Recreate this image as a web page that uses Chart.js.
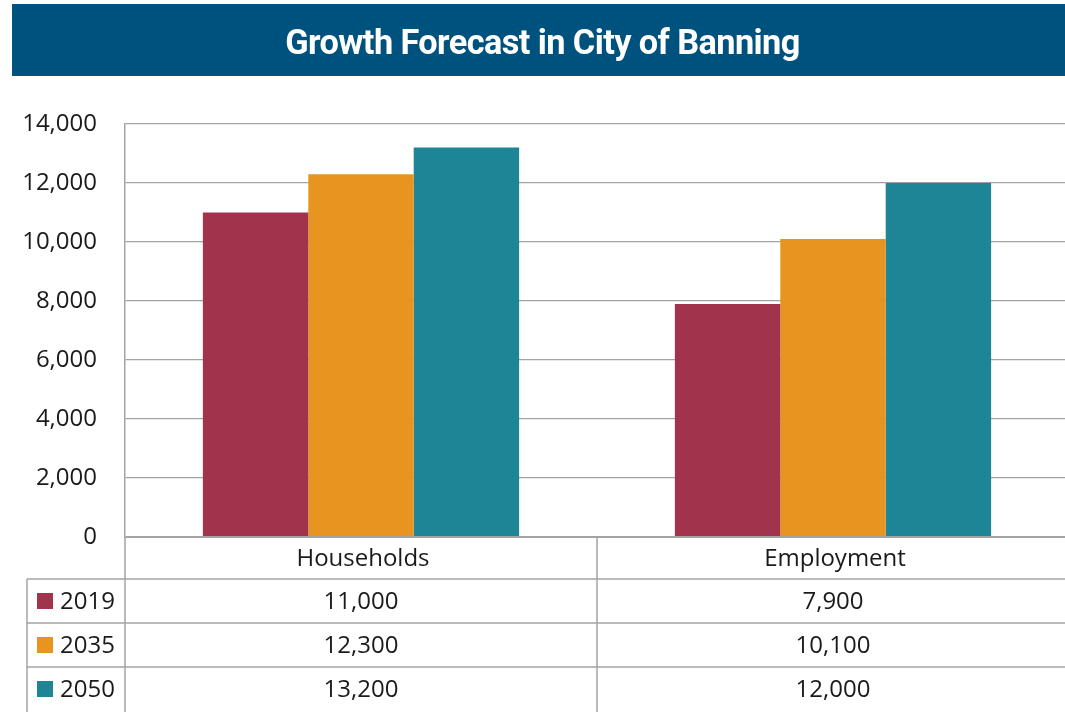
<!DOCTYPE html>
<html>
<head>
<meta charset="utf-8">
<script src="https://cdn.jsdelivr.net/npm/chart.js@4/dist/chart.umd.min.js"></script>
<style>
  html, body { margin: 0; padding: 0; background: #fff; overflow: hidden; }
  body { width: 1065px; height: 712px; position: relative; }
  #banner {
    position: absolute; left: 12px; top: 4px; width: 1060px; height: 72px;
    background: #00527e; color: #fff; text-align: center;
  }
  #banner span {
    display: inline-block; font-family: Roboto, sans-serif; font-weight: 700;
    font-size: 35px; line-height: 72px; transform: scaleX(0.98); letter-spacing: -0.6px;
    position: relative; top: 3px;
  }
  #chart { position: absolute; left: 0; top: 0; }
</style>
</head>
<body>
<canvas id="chart" width="1075" height="712"></canvas>
<div id="banner"><span>Growth Forecast in City of Banning</span></div>
<script>
const categories = ['Households', 'Employment']
const years = ['2019', '2035', '2050']
const values2019 = [11000, 7900]
const values2035 = [12300, 10100]
const values2050 = [13200, 12000]
const yTicks = [0, 2000, 4000, 6000, 8000, 10000, 12000, 14000]

const colors = ['#a1344c', '#e79520', '#1e8596']
const series = [values2019, values2035, values2050]
const fontFamily = '"Open Sans", "Noto Sans", sans-serif'
const lineColor = '#a3a3a3'
const textColor = '#1a1a1a'

const fmt = (v) => v.toLocaleString('en-US')

// data table under the plot, lined up with the x scale
const tablePlugin = {
  id: 'dataTable',
  afterDraw(chart) {
    const ctx = chart.ctx
    const area = chart.chartArea
    const x = chart.scales.x
    const headerBottom = area.bottom + 42
    const rowH = 44
    const legendLeft = 27
    const bottom = 712
    const mid = (x.getPixelForValue(0) + x.getPixelForValue(1)) / 2

    ctx.save()
    ctx.strokeStyle = lineColor
    ctx.lineWidth = 1.5

    const line = (x1, y1, x2, y2) => {
      ctx.beginPath()
      ctx.moveTo(x1, y1)
      ctx.lineTo(x2, y2)
      ctx.stroke()
    }

    // verticals
    line(area.left, area.bottom, area.left, bottom)
    line(mid, area.bottom, mid, bottom)
    line(legendLeft, headerBottom, legendLeft, bottom)
    // horizontals
    for (let i = 0; i < years.length; i++) {
      const y = headerBottom + i * rowH
      line(legendLeft, y, area.right, y)
    }

    ctx.fillStyle = textColor
    ctx.font = '24px ' + fontFamily
    ctx.textAlign = 'center'
    ctx.textBaseline = 'middle'
    categories.forEach((c, i) => {
      ctx.fillText(c, x.getPixelForValue(i) + 2, (area.bottom + headerBottom) / 2 + 1)
    })

    years.forEach((yr, r) => {
      const cy = headerBottom + r * rowH + rowH / 2 + 1
      ctx.fillStyle = colors[r]
      ctx.fillRect(37, cy - 9, 16, 16)
      ctx.fillStyle = textColor
      ctx.textAlign = 'left'
      ctx.fillText(yr, 60, cy)
      ctx.textAlign = 'center'
      series[r].forEach((v, i) => {
        ctx.fillText(fmt(v), x.getPixelForValue(i), cy)
      })
    })
    ctx.restore()
  },
}

new Chart(document.getElementById('chart'), {
  type: 'bar',
  data: {
    labels: categories,
    datasets: years.map((yr, i) => ({
      label: yr,
      data: series[i],
      backgroundColor: colors[i],
      borderWidth: 0,
      categoryPercentage: 0.67,
      barPercentage: 1,
    })),
  },
  options: {
    responsive: false,
    animation: false,
    devicePixelRatio: 1,
    layout: { padding: { top: 124, bottom: 175, left: 0, right: 6 } },
    plugins: { legend: { display: false }, tooltip: { enabled: false } },
    scales: {
      x: { display: false },
      y: {
        min: 0,
        max: 14000,
        afterBuildTicks: (axis) => {
          axis.ticks = yTicks.map((v) => ({ value: v }))
        },
        afterFit: (axis) => {
          axis.width = 125
        },
        ticks: {
          color: textColor,
          font: { family: fontFamily, size: 24 },
          padding: 28,
          callback: (v) => fmt(v),
        },
        grid: {
          color: lineColor,
          lineWidth: (c) => (c.tick && c.tick.value === 0 ? 2 : 1.2),
          drawTicks: false,
        },
        border: { color: lineColor, width: 1.5 },
      },
    },
  },
  plugins: [tablePlugin],
})
</script>
</body>
</html>
